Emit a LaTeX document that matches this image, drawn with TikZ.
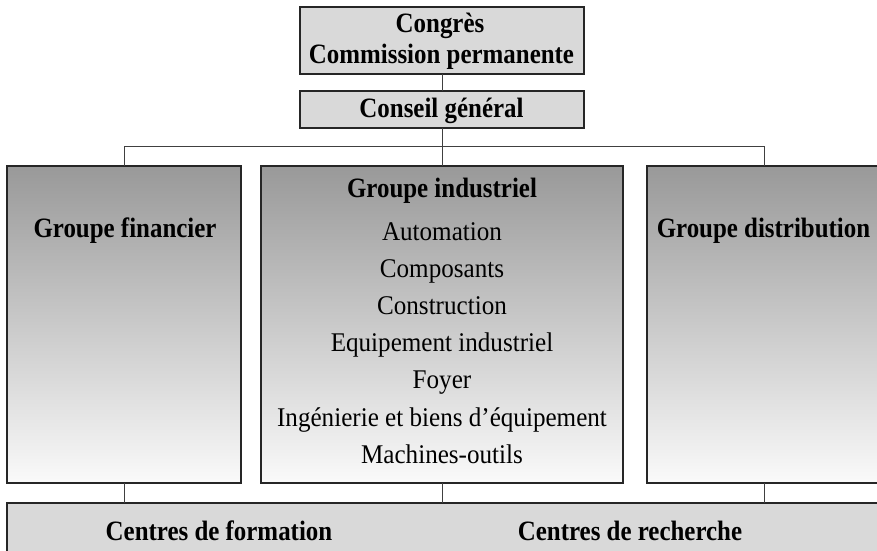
\documentclass[tikz,border=0pt]{standalone}
\usepackage{fontspec}
\setmainfont{Liberation Serif}
\begin{document}
\begin{tikzpicture}[x=1pt,y=-1pt,
  flatbox/.style={draw=black!85,line width=1.2pt,fill=black!15,inner sep=0pt,outer sep=0pt},
  gradbox/.style={draw=black!85,line width=1.2pt,top color=black!40,bottom color=black!2,inner sep=0pt,outer sep=0pt},
  link/.style={draw=black!75,line width=0.9pt},
  boldtxt/.style={font=\fontsize{28}{33}\selectfont\bfseries\addfontfeature{FakeStretch=0.89},inner sep=0pt,anchor=base},
  itemtxt/.style={font=\fontsize{27}{35}\selectfont\addfontfeature{FakeStretch=0.93},inner sep=0pt,anchor=base}
]
\useasboundingbox (0,0) rectangle (877,550);
\clip (0,0) rectangle (877,550);
\fill[white] (0,0) rectangle (877,550);
% top boxes
\node[flatbox,minimum width=284pt,minimum height=67pt] (congres) at (442,40.5) {};
\node[flatbox,minimum width=284pt,minimum height=37pt] (conseil) at (442,109.5) {};
% middle boxes
\node[gradbox,minimum width=234pt,minimum height=317pt] (fin) at (124,324.5) {};
\node[gradbox,minimum width=362pt,minimum height=317pt] (ind) at (442,324.5) {};
\node[gradbox,minimum width=234pt,minimum height=317pt] (dist) at (764,324.5) {};
% bottom box
\node[flatbox,minimum width=885pt,minimum height=60pt] (centres) at (449.5,533) {};
% connectors
\coordinate (bus) at (0,146);
\draw[link] (congres.south) -- (conseil.north);
\draw[link] (conseil.south) -- (ind.north);
\draw[link] (fin.north) -- (fin.north |- bus) -- (dist.north |- bus) -- (dist.north);
\draw[link] (fin.south) -- (fin.south |- centres.north);
\draw[link] (ind.south) -- (ind.south |- centres.north);
\draw[link] (dist.south) -- (dist.south |- centres.north);
% labels
\node[boldtxt] (t1) at (440,32) {Congrès};
\node[boldtxt] (t2) at (441.5,63) {Commission permanente};
\node[boldtxt] (tcons) at (441.5,117) {Conseil général};
\node[boldtxt] (tfin) at (125,237) {Groupe financier};
\node[boldtxt] (tdist) at (763.5,237) {Groupe distribution};
\node[boldtxt] (tind) at (442,197) {Groupe industriel};
\node[itemtxt] (i1) at (442,240) {Automation};
\node[itemtxt] (i2) at (442,277.2) {Composants};
\node[itemtxt] (i3) at (442,314.4) {Construction};
\node[itemtxt] (i4) at (442,351.6) {Equipement industriel};
\node[itemtxt] (i5) at (442,388.8) {Foyer};
\node[itemtxt] (i6) at (442,426) {Ingénierie et biens d’équipement};
\node[itemtxt] (i7) at (442,463) {Machines-outils};
\node[boldtxt] (tform) at (219,540) {Centres de formation};
\node[boldtxt] (trech) at (630,540) {Centres de recherche};
\end{tikzpicture}
\end{document}
